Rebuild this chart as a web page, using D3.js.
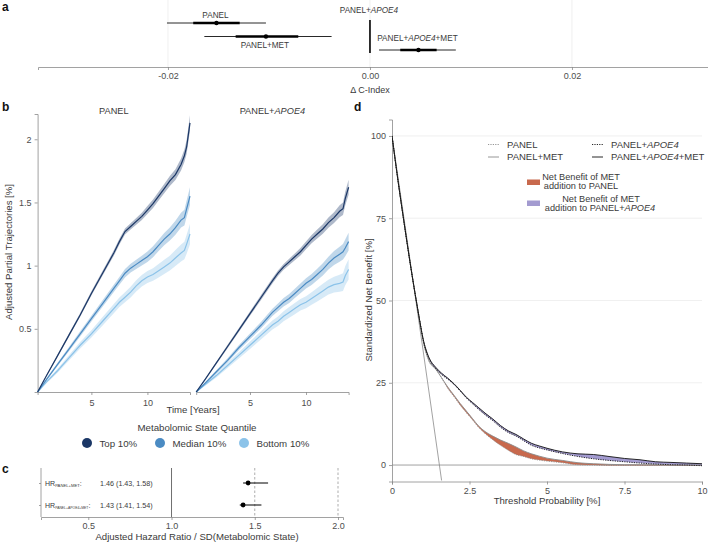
<!DOCTYPE html>
<html><head><meta charset="utf-8">
<script src="https://cdn.jsdelivr.net/npm/d3@7"></script>
<style>body{margin:0;background:#fff}svg{display:block;font-family:"Liberation Sans",Arial,Helvetica,sans-serif}</style>
</head><body><svg id="c" width="708" height="543"></svg>
<script>
// ---------- Panel a: delta C-index ----------
const aRows = ["PANEL","PANEL+MET","PANEL+APOE4+MET"];
const aEst  = [-0.0152,-0.0103,0.0048];
const aLo95 = [-0.0201,-0.0164,0.0009];
const aHi95 = [-0.0103,-0.0038,0.0085];
const aLo50 = [-0.0175,-0.0133,0.0030];
const aHi50 = [-0.0129,-0.0071,0.0066];
const aRef = 0;
const aTicks = [-0.02,0,0.02];

// ---------- Panel b: trajectories ----------
const years = [0.2,1,2,3,4,5,6,7,7.5,8,8.5,9,9.5,10,10.5,11,11.5,12,12.5,13,13.3,13.5,13.8];
const topPanel = [0,0.13,0.29,0.45,0.61,0.78,0.94,1.10,1.19,1.27,1.31,1.35,1.39,1.44,1.49,1.55,1.61,1.67,1.72,1.80,1.87,1.94,2.13];
const medPanel = [0,0.10,0.22,0.34,0.46,0.58,0.70,0.82,0.88,0.94,0.98,1.01,1.04,1.07,1.11,1.16,1.21,1.25,1.30,1.36,1.38,1.45,1.55];
const botPanel = [0,0.08,0.17,0.27,0.37,0.46,0.56,0.66,0.71,0.75,0.79,0.84,0.88,0.91,0.93,0.96,0.99,1.02,1.06,1.10,1.12,1.17,1.25];
const topApoe  = [0,0.10,0.23,0.36,0.49,0.62,0.75,0.88,0.94,0.99,1.03,1.07,1.11,1.16,1.21,1.25,1.29,1.34,1.38,1.43,1.45,1.53,1.62];
const medApoe  = [0,0.07,0.16,0.25,0.35,0.44,0.53,0.63,0.67,0.71,0.74,0.78,0.82,0.86,0.89,0.93,0.97,1.02,1.06,1.09,1.11,1.14,1.19];
const botApoe  = [0,0.06,0.13,0.21,0.29,0.37,0.45,0.53,0.56,0.60,0.63,0.66,0.69,0.71,0.74,0.77,0.80,0.83,0.85,0.86,0.87,0.92,0.97];
const ciTop = [0,0.006,0.010,0.013,0.015,0.017,0.019,0.021,0.022,0.023,0.025,0.027,0.029,0.031,0.033,0.035,0.037,0.040,0.043,0.047,0.050,0.055,0.060];
const ciMed = [0,0.008,0.013,0.017,0.020,0.023,0.026,0.029,0.031,0.033,0.035,0.037,0.039,0.041,0.043,0.045,0.048,0.051,0.055,0.059,0.062,0.066,0.070];
const ciBot = [0,0.010,0.016,0.021,0.025,0.029,0.033,0.036,0.038,0.040,0.042,0.044,0.046,0.048,0.050,0.053,0.056,0.059,0.063,0.067,0.070,0.075,0.080];
const quantiles = ["Top 10%","Median 10%","Bottom 10%"];
const facets = ["PANEL","PANEL+APOE4"];
const bYTicks = [0.5,1,1.5,2];
const bXTicks = [5,10];

// ---------- Panel c: hazard ratios ----------
const hrRows = ["PANEL+MET","PANEL+APOE4+MET"];
const hrEst = [1.46,1.43];
const hrLo  = [1.43,1.41];
const hrHi  = [1.58,1.54];
const cTicks = [0.5,1.0,1.5,2.0];

// ---------- Panel d: decision curves ----------
const thr = [0,0.2,0.4,0.6,0.8,0.9,1.0,1.2,1.4,1.6,1.8,2.0,2.2,2.4,2.6,2.8,3.0,3.25,3.5,3.75,4.0,4.25,4.5,4.75,5.0,5.5,6.0,6.5,7.0,7.5,8.0,8.5,9.0,9.5,10];
const nbApoeMet = [100,86,73,60.5,49,43.5,38.5,32.5,29.8,27.9,26.4,24.7,22.7,20.6,19.0,17.4,15.8,14.0,12.0,10.4,9.3,7.9,6.6,5.8,5.1,4.0,3.4,3.2,2.6,2.0,1.6,1.0,0.8,0.6,0.4];
const nbApoe    = [100,86,73,60.5,49,43.5,38.4,32.2,29.4,27.5,26.1,24.5,22.5,20.4,18.6,16.9,15.3,13.5,11.5,9.9,8.8,7.4,6.0,5.2,4.6,3.5,2.6,1.9,1.4,1.0,0.6,0.3,0.1,0.0,-0.2];
const nbMet     = [100,86,73,60.5,49,43.5,38.0,31.5,29.3,26.5,23.7,21.2,18.7,16.4,14.1,11.8,10.2,8.8,7.6,6.6,5.5,4.3,3.4,2.7,2.1,1.4,0.7,0.4,0.2,0.1,0.1,0.05,0,0,0];
const nbPanel   = [100,86,73,60.5,49,43.5,38.0,31.5,29.3,26.5,23.3,20.8,18.2,15.9,13.7,11.4,9.6,7.7,6.0,4.5,3.2,2.6,1.9,1.5,1.2,0.7,0.1,0.0,-0.1,-0.1,-0.1,-0.1,-0.1,-0.1,-0.1];
const treatAllX = [0,0.5,1.0,1.6];
const treatAllY = [100,67.6,35,-4.7];
const dXTicks = [0,2.5,5,7.5,10];
const dYTicks = [0,25,50,75,100];

// ================= drawing =================
const svg = d3.select("#c");
svg.append("rect").attr("width",708).attr("height",543).attr("fill","#fff");
const AX = "#8a8a8a", TXT = "#3a3a3a", TICK = "#4d4d4d", GRID = "#ececec";
const qColors = ["#1b3766","#4b8bc3","#8cc3e9"];

function styleAxis(g){
  g.select(".domain").attr("stroke",AX).attr("stroke-width",0.8);
  g.selectAll(".tick line").attr("stroke",AX).attr("stroke-width",0.8);
  g.selectAll(".tick text").attr("fill",TICK).attr("font-size",9).attr("font-family",null);
}
function label(txt,x,y){
  svg.append("text").attr("x",x).attr("y",y).attr("font-size",12).attr("font-weight","bold").attr("fill","#111").text(txt);
}
function modelText(sel, name){
  const parts = name.split("APOE4");
  parts.forEach((p,i)=>{
    if(p) sel.append("tspan").text(p);
    if(i<parts.length-1) sel.append("tspan").attr("font-style","italic").text("APOE4");
  });
}

// ---- Panel a ----
label("a",2,11);
const xa = d3.scaleLinear().domain([-0.03287,0.03347]).range([38,708]);
const ya = d3.scalePoint().domain(aRows).range([23,50]);
aTicks.forEach(t=>svg.append("line").attr("x1",xa(t)).attr("x2",xa(t)).attr("y1",0).attr("y2",67).attr("stroke",GRID).attr("stroke-width",0.8));
const gA = svg.append("g").attr("transform","translate(0,67)")
  .call(d3.axisBottom(xa).tickValues(aTicks).tickSize(3).tickFormat(d=>d3.format(".2f")(d).replace("\u2212","-")));
styleAxis(gA);
svg.append("text").attr("x",370).attr("y",93).attr("text-anchor","middle").attr("font-size",9).attr("fill",TXT).text("\u0394 C-Index");
svg.append("line").attr("x1",xa(aRef)).attr("x2",xa(aRef)).attr("y1",20).attr("y2",53).attr("stroke","#000").attr("stroke-width",1.6);
const tA = svg.append("text").attr("x",xa(aRef)-1).attr("y",13).attr("text-anchor","middle").attr("font-size",8.2).attr("fill",TXT);
modelText(tA,"PANEL+APOE4");
aRows.forEach((r,i)=>{
  const y = ya(r);
  svg.append("line").attr("x1",xa(aLo95[i])).attr("x2",xa(aHi95[i])).attr("y1",y).attr("y2",y).attr("stroke","#111").attr("stroke-width",0.9);
  svg.append("line").attr("x1",xa(aLo50[i])).attr("x2",xa(aHi50[i])).attr("y1",y).attr("y2",y).attr("stroke","#000").attr("stroke-width",2.4);
  svg.append("circle").attr("cx",xa(aEst[i])).attr("cy",y).attr("r",2.2).attr("fill","#000");
  const off = [-5.5,11.5,-9][i];
  const t = svg.append("text").attr("x",xa(aEst[i])-1).attr("y",y+off).attr("text-anchor","middle").attr("font-size",8.2).attr("fill",TXT);
  modelText(t,r);
});

// ---- Panel b ----
label("b",2,111);
const yb = d3.scaleLinear().domain([0,2.2]).range([392,114]);
const facetRanges = [[37.6,190],[196.2,348.6]];
const facetData = [[topPanel,medPanel,botPanel],[topApoe,medApoe,botApoe]];
const cis = [ciTop,ciMed,ciBot];
facets.forEach((f,fi)=>{
  const xb = d3.scaleLinear().domain([0.2,13.8]).range(facetRanges[fi]);
  const gx = svg.append("g").attr("transform","translate(0,392)")
    .call(d3.axisBottom(xb).tickValues(bXTicks).tickSize(3).tickFormat(d=>String(d)));
  styleAxis(gx);
  gx.selectAll(".tick text").attr("dy","0.9em");
  if(fi===0){
    const gy = svg.append("g").attr("transform",`translate(${facetRanges[0][0]},0)`)
      .call(d3.axisLeft(yb).tickValues(bYTicks).tickSize(3).tickFormat(d=>String(d)));
    styleAxis(gy);
  }
  const tt = svg.append("text").attr("x",(facetRanges[fi][0]+facetRanges[fi][1])/2).attr("y",114).attr("text-anchor","middle").attr("font-size",9.2).attr("fill",TXT);
  modelText(tt,f);
  [2,1,0].forEach(qi=>{
    const vals = facetData[fi][qi], ci = cis[qi];
    const pts = years.map((t,k)=>({t, v:vals[k], lo:vals[k]-ci[k], hi:vals[k]+ci[k]}));
    svg.append("path").datum(pts).attr("fill",qColors[qi]).attr("fill-opacity",0.35)
      .attr("d",d3.area().x(d=>xb(d.t)).y0(d=>yb(Math.max(0,d.lo))).y1(d=>yb(d.hi)));
    svg.append("path").datum(pts).attr("fill","none").attr("stroke",qColors[qi]).attr("stroke-width",1.2)
      .attr("d",d3.line().x(d=>xb(d.t)).y(d=>yb(d.v)));
  });
});
svg.append("text").attr("x",12).attr("y",252).attr("transform","rotate(-90,12,252)").attr("text-anchor","middle").attr("font-size",9.6).attr("fill",TXT).text("Adjusted Partial Trajectories [%]");
svg.append("text").attr("x",193).attr("y",413).attr("text-anchor","middle").attr("font-size",9.6).attr("fill",TXT).text("Time [Years]");
svg.append("text").attr("x",197).attr("y",431).attr("text-anchor","middle").attr("font-size",9.7).attr("fill",TXT).text("Metabolomic State Quantile");
const legX = [87,160,244];
quantiles.forEach((q,i)=>{
  svg.append("circle").attr("cx",legX[i]).attr("cy",443).attr("r",5).attr("fill",qColors[i]);
  svg.append("text").attr("x",legX[i]+12.5).attr("y",446.5).attr("font-size",9.7).attr("fill",TXT).text(q);
});

// ---- Panel c ----
label("c",2,473);
const xc = d3.scaleLinear().domain([0.216,2.03]).range([41,343]);
const yc = d3.scalePoint().domain(hrRows).range([483,505]);
svg.append("line").attr("x1",xc(1)).attr("x2",xc(1)).attr("y1",468).attr("y2",517).attr("stroke","#6f6f6f").attr("stroke-width",1);
[1.5,2.0].forEach(v=>svg.append("line").attr("x1",xc(v)).attr("x2",xc(v)).attr("y1",468).attr("y2",517).attr("stroke","#8a8a8a").attr("stroke-width",0.7).attr("stroke-dasharray","2.5,2"));
const gcx = svg.append("g").attr("transform","translate(0,517)")
  .call(d3.axisBottom(xc).tickValues(cTicks).tickSize(3).tickFormat(d3.format(".1f")));
styleAxis(gcx);
const gcy = svg.append("g").attr("transform","translate(41,0)").call(d3.axisLeft(yc).tickSize(2).tickFormat(""));
styleAxis(gcy);
gcy.select(".domain").attr("d","M0,468V517");
svg.append("text").attr("x",197).attr("y",540).attr("text-anchor","middle").attr("font-size",9.6).attr("fill",TXT).text("Adjusted Hazard Ratio / SD(Metabolomic State)");
hrRows.forEach((r,i)=>{
  const y = yc(r);
  svg.append("line").attr("x1",xc(hrLo[i])).attr("x2",xc(hrHi[i])).attr("y1",y).attr("y2",y).attr("stroke","#000").attr("stroke-width",1);
  svg.append("circle").attr("cx",xc(hrEst[i])).attr("cy",y).attr("r",2.4).attr("fill","#000");
  const t = svg.append("text").attr("x",45).attr("y",y+2.5).attr("font-size",7).attr("fill",TXT);
  t.append("tspan").text("HR");
  t.append("tspan").attr("font-size",i===0?4.2:3.4).attr("dy",1.5).text(r.toUpperCase());
  t.append("tspan").attr("dy",-1.5).text(":");
  svg.append("text").attr("x",100).attr("y",y+2.5).attr("font-size",7.2).attr("fill",TXT)
    .text(`${hrEst[i].toFixed(2)} (${hrLo[i].toFixed(2)}, ${hrHi[i].toFixed(2)})`);
});

// ---- Panel d ----
label("d",354,111);
const xd = d3.scaleLinear().domain([0,10]).range([392,702]);
const yd = d3.scaleLinear().domain([-5,105]).range([481.5,119.5]);
svg.append("defs").append("clipPath").attr("id","dclip").append("rect").attr("x",392).attr("y",119.5).attr("width",312).attr("height",362);
[25,50,75,100].forEach(v=>svg.append("line").attr("x1",392).attr("x2",702).attr("y1",yd(v)).attr("y2",yd(v)).attr("stroke",GRID).attr("stroke-width",0.8));
svg.append("line").attr("x1",392).attr("x2",702).attr("y1",yd(0)).attr("y2",yd(0)).attr("stroke","#8a8a8a").attr("stroke-width",0.8);
const gdx = svg.append("g").attr("transform","translate(0,481.5)")
  .call(d3.axisBottom(xd).tickValues(dXTicks).tickSize(3).tickFormat(d=>String(d)));
styleAxis(gdx);
const gdy = svg.append("g").attr("transform","translate(392,0)")
  .call(d3.axisLeft(yd).tickValues(dYTicks).tickSize(3).tickFormat(d=>String(d)));
styleAxis(gdy);
const gd = svg.append("g").attr("clip-path","url(#dclip)");
gd.append("path").datum(treatAllX.map((x,i)=>[x,treatAllY[i]])).attr("fill","none").attr("stroke","#8a8a8a").attr("stroke-width",0.8)
  .attr("d",d3.line().x(d=>xd(d[0])).y(d=>yd(d[1])));
const dpts = thr.map((t,i)=>({t,am:nbApoeMet[i],a:nbApoe[i],m:nbMet[i],p:nbPanel[i]}));
gd.append("path").datum(dpts).attr("fill","#c8694d")
  .attr("d",d3.area().curve(d3.curveMonotoneX).x(d=>xd(d.t)).y0(d=>yd(d.p)).y1(d=>yd(Math.max(d.m,d.p))));
gd.append("path").datum(dpts).attr("fill","#a39bd0")
  .attr("d",d3.area().curve(d3.curveMonotoneX).x(d=>xd(d.t)).y0(d=>yd(d.a)).y1(d=>yd(Math.max(d.am,d.a))));
const lineSpecs = [["p","#8a8a8a","1.2,1.2"],["m","#8a8a8a",null],["a","#111","1.2,1.2"],["am","#111",null]];
lineSpecs.forEach(([k,c,dash])=>{
  gd.append("path").datum(dpts).attr("fill","none").attr("stroke",c).attr("stroke-width",0.9)
    .attr("stroke-dasharray",dash).attr("d",d3.line().curve(d3.curveMonotoneX).x(d=>xd(d.t)).y(d=>yd(d[k])));
});
svg.append("text").attr("x",372).attr("y",300).attr("transform","rotate(-90,372,300)").attr("text-anchor","middle").attr("font-size",9.6).attr("fill",TXT).text("Standardized Net Benefit [%]");
svg.append("text").attr("x",547).attr("y",504).attr("text-anchor","middle").attr("font-size",9.6).attr("fill",TXT).text("Threshold Probability [%]");
const legLines = [["PANEL","#8a8a8a","1.2,1.2",488,144.5],["PANEL+APOE4","#111","1.2,1.2",592,144.5],["PANEL+MET","#8a8a8a",null,488,157],["PANEL+APOE4+MET","#111",null,592,157]];
legLines.forEach(([n,c,dash,x,y])=>{
  svg.append("line").attr("x1",x).attr("x2",x+11).attr("y1",y).attr("y2",y).attr("stroke",c).attr("stroke-width",0.9).attr("stroke-dasharray",dash);
  const t = svg.append("text").attr("x",x+19).attr("y",y+3.3).attr("font-size",9.5).attr("fill",TXT);
  modelText(t,n);
});
svg.append("rect").attr("x",527).attr("y",179.5).attr("width",13).attr("height",5.5).attr("fill","#c8694d");
svg.append("rect").attr("x",527).attr("y",200.5).attr("width",13).attr("height",5.5).attr("fill","#a39bd0");
[["Net Benefit of MET",581,180],["addition to PANEL",581,189]].forEach(([s,x,y])=>
  svg.append("text").attr("x",x).attr("y",y).attr("text-anchor","middle").attr("font-size",9.2).attr("fill",TXT).text(s));
svg.append("text").attr("x",601).attr("y",202).attr("text-anchor","middle").attr("font-size",9.2).attr("fill",TXT).text("Net Benefit of MET");
const t2 = svg.append("text").attr("x",600).attr("y",211).attr("text-anchor","middle").attr("font-size",9.2).attr("fill",TXT);
modelText(t2,"addition to PANEL+APOE4");
</script></body></html>
